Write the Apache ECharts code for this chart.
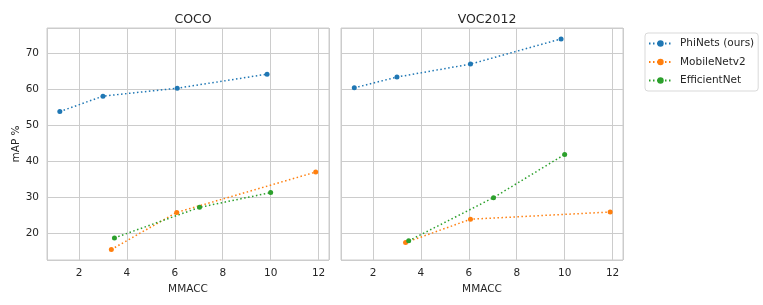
<!DOCTYPE html>
<html>
<head>
<meta charset="utf-8">
<script src="https://cdn.jsdelivr.net/npm/echarts@6/dist/echarts.min.js"></script>
<style>
html,body{margin:0;padding:0;background:#fff;}
#chart{width:763px;height:305px;}
</style>
</head>
<body>
<div id="chart"></div>
<script>
// ---- data ----
const panelTitles = ['COCO', 'VOC2012'];
const seriesNames = ['PhiNets (ours)', 'MobileNetv2', 'EfficientNet'];
const seriesColors = ['#1f77b4', '#ff7f0e', '#2ca02c'];

const cocoPhiX = [1.2, 3.0, 6.1, 9.85];
const cocoPhiY = [53.7, 58.0, 60.2, 64.1];
const cocoMobX = [3.35, 6.08, 11.88];
const cocoMobY = [15.4, 25.7, 36.9];
const cocoEffX = [3.48, 7.03, 10.0];
const cocoEffY = [18.6, 27.1, 31.2];

const vocPhiX = [1.22, 3.0, 6.07, 9.85];
const vocPhiY = [60.3, 63.3, 66.9, 73.9];
const vocMobX = [3.36, 6.07, 11.9];
const vocMobY = [17.3, 23.8, 25.8];
const vocEffX = [3.49, 7.03, 10.0];
const vocEffY = [17.8, 29.8, 41.8];

const xLabelText = 'MMACC';
const yLabelText = 'mAP %';

// ---- build ----
const zip = (xs, ys) => xs.map((x, i) => [x, ys[i]]);
const panelData = [
  [zip(cocoPhiX, cocoPhiY), zip(cocoMobX, cocoMobY), zip(cocoEffX, cocoEffY)],
  [zip(vocPhiX, vocPhiY), zip(vocMobX, vocMobY), zip(vocEffX, vocEffY)]
];

const txt = '#262626';
const gridCol = '#cccccc';
const font = 'DejaVu Sans';
const xMin = 0.665, xMax = 12.435, yMin = 12.47, yMax = 76.93;

const grids = [
  {left: 47, top: 28, width: 282, height: 232, show: true, borderColor: gridCol, borderWidth: 1},
  {left: 341, top: 28, width: 282, height: 232, show: true, borderColor: gridCol, borderWidth: 1}
];

const xAxes = [0, 1].map(i => ({
  type: 'value', gridIndex: i, min: xMin, max: xMax, splitNumber: 5,
  name: xLabelText, nameLocation: 'middle', nameGap: 23,
  nameTextStyle: {color: txt, fontSize: 10.5, fontFamily: font},
  axisLine: {show: false}, axisTick: {show: false},
  axisLabel: {color: txt, fontSize: 10.5, fontFamily: font, margin: 8, showMinLabel: false, showMaxLabel: false},
  splitLine: {show: true, lineStyle: {color: gridCol, width: 1}}
}));

const yAxes = [0, 1].map(i => ({
  type: 'value', gridIndex: i, min: yMin, max: yMax, splitNumber: 6,
  name: i === 0 ? yLabelText : '', nameLocation: 'middle', nameGap: 23,
  nameTextStyle: {color: txt, fontSize: 10.5, fontFamily: font},
  axisLine: {show: false}, axisTick: {show: false},
  axisLabel: {show: i === 0, color: txt, fontSize: 10.5, fontFamily: font, margin: 8, showMinLabel: false, showMaxLabel: false},
  splitLine: {show: true, lineStyle: {color: gridCol, width: 1}}
}));

const series = [];
for (let p = 0; p < 2; p++) {
  for (let s = 0; s < 3; s++) {
    series.push({
      type: 'line', name: seriesNames[s], xAxisIndex: p, yAxisIndex: p,
      data: panelData[p][s], symbol: 'circle', symbolSize: 5,
      color: seriesColors[s],
      lineStyle: {color: seriesColors[s], width: 1.5, type: [1.5, 2.5]},
      itemStyle: {color: seriesColors[s]},
      animation: false, z: 3
    });
  }
}

const titles = panelTitles.map((t, i) => ({
  text: t, left: (i === 0 ? 188 : 482), top: 8, textAlign: 'center',
  textStyle: {color: txt, fontSize: 12.5, fontWeight: 'normal', fontFamily: font}
}));

const chart = echarts.init(document.getElementById('chart'), null, {renderer: 'canvas'});
chart.setOption({
  backgroundColor: '#ffffff',
  animation: false,
  title: titles,
  grid: grids,
  xAxis: xAxes,
  yAxis: yAxes,
  legend: {
    data: seriesNames, orient: 'vertical', left: 645, top: 33,
    itemWidth: 23, itemHeight: 8, itemGap: 7.5,
    padding: [5, 4, 5, 3],
    borderColor: '#d9d9d9', borderWidth: 1, borderRadius: 3,
    textStyle: {color: txt, fontSize: 10.5, fontFamily: font, padding: [0, 0, 0, 3]}
  },
  series: series
});
</script>
</body>
</html>
